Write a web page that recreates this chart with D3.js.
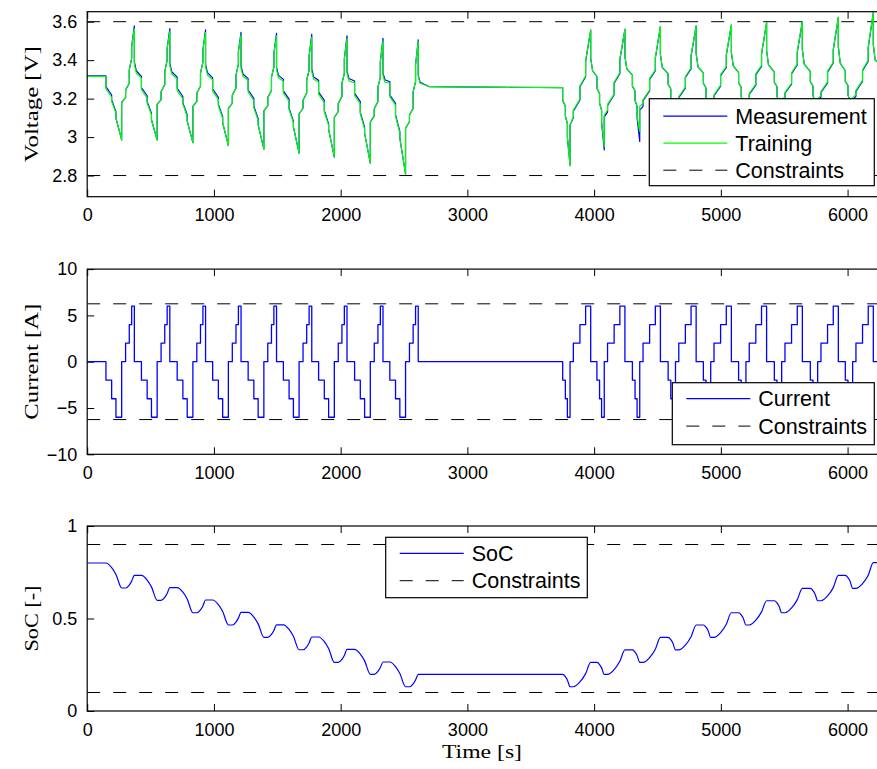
<!DOCTYPE html>
<html><head><meta charset="utf-8">
<script src="https://cdn.jsdelivr.net/npm/d3@7"></script>
<style>body{margin:0;background:#fff}svg{display:block}</style>
</head><body><svg id="c" width="877" height="769"></svg>
<script>
// ---------- DATA ----------
// breakpoints of the test profile (s)
const time = [0,
 148,193,227,272,303,332,351,372,387,
 428,473,507,552,583,612,631,652,667,
 710,755,789,834,865,894,913,934,949,
 990,1035,1069,1114,1145,1174,1193,1214,1229,
 1270,1315,1349,1394,1425,1454,1473,1494,1509,
 1548,1593,1627,1672,1703,1732,1751,1772,1787,
 1826,1871,1905,1950,1981,2010,2029,2050,2065,
 2110,2155,2189,2234,2265,2294,2313,2334,2349,
 2388,2433,2467,2512,2543,2572,2591,2612,2627,
 2700,
 3752,3773,3789,3810,3836,3888,3933,3973,3988,
 4022,4043,4059,4080,4106,4158,4203,4243,4258,
 4302,4323,4339,4360,4386,4438,4483,4523,4538,
 4584,4605,4621,4642,4668,4720,4765,4805,4820,
 4862,4883,4899,4920,4946,4998,5043,5083,5098,
 5140,5161,5177,5198,5224,5276,5321,5361,5376,
 5422,5443,5459,5480,5506,5558,5603,5643,5658,
 5706,5727,5743,5764,5790,5842,5887,5927,5942,
 5982,6003,6019,6040,6066,6118,6163,6203,6218,
 6300];

// current held on [time[i], time[i+1]) (A)
const current = [0,
 -2,-4,-6,0,2,4,6,0,0,
 -2,-4,-6,0,2,4,6,0,0,
 -2,-4,-6,0,2,4,6,0,0,
 -2,-4,-6,0,2,4,6,0,0,
 -2,-4,-6,0,2,4,6,0,0,
 -2,-4,-6,0,2,4,6,0,0,
 -2,-4,-6,0,2,4,6,0,0,
 -2,-4,-6,0,2,4,6,0,0,
 -2,-4,-6,0,2,4,6,0,0,
 0,
 -2,-4,-6,0,2,4,6,0,0,
 -2,-4,-6,0,2,4,6,0,0,
 -2,-4,-6,0,2,4,6,0,0,
 -2,-4,-6,0,2,4,6,0,0,
 -2,-4,-6,0,2,4,6,0,0,
 -2,-4,-6,0,2,4,6,0,0,
 -2,-4,-6,0,2,4,6,0,0,
 -2,-4,-6,0,2,4,6,0,0,
 -2,-4,-6,0,2,4,6,0,0];

// measured voltage at start / end of each segment (V)
const measStart = [3.318,
 3.262,3.193,3.098,3.180,3.245,3.349,3.470,3.392,3.345,
 3.258,3.185,3.090,3.170,3.236,3.340,3.462,3.385,3.340,
 3.254,3.178,3.083,3.160,3.228,3.332,3.454,3.378,3.335,
 3.250,3.170,3.074,3.148,3.218,3.322,3.445,3.370,3.328,
 3.245,3.160,3.064,3.135,3.206,3.310,3.434,3.362,3.321,
 3.240,3.150,3.053,3.120,3.192,3.296,3.421,3.353,3.313,
 3.234,3.139,3.040,3.102,3.174,3.280,3.406,3.344,3.305,
 3.227,3.128,3.020,3.078,3.148,3.260,3.392,3.334,3.298,
 3.219,3.115,2.994,3.046,3.115,3.236,3.375,3.323,3.285,
 3.262,
 3.190,3.110,3.000,3.063,3.135,3.262,3.392,3.410,3.345,
 3.255,3.175,3.075,3.105,3.165,3.280,3.400,3.420,3.355,
 3.265,3.190,3.100,3.140,3.190,3.300,3.410,3.430,3.362,
 3.275,3.200,3.110,3.160,3.205,3.310,3.420,3.435,3.365,
 3.280,3.205,3.120,3.170,3.215,3.320,3.425,3.440,3.370,
 3.282,3.210,3.125,3.180,3.222,3.325,3.430,3.450,3.375,
 3.285,3.212,3.130,3.185,3.228,3.330,3.440,3.455,3.380,
 3.288,3.215,3.135,3.190,3.232,3.338,3.452,3.470,3.385,
 3.290,3.218,3.140,3.195,3.238,3.345,3.465,3.480,3.400];
const measEnd = [3.318,
 3.219,3.132,2.985,3.205,3.280,3.410,3.578,3.345,3.316,
 3.215,3.124,2.985,3.195,3.272,3.400,3.564,3.340,3.312,
 3.211,3.116,2.971,3.186,3.264,3.390,3.557,3.335,3.308,
 3.207,3.106,2.956,3.176,3.255,3.378,3.545,3.328,3.304,
 3.202,3.095,2.937,3.164,3.243,3.364,3.540,3.321,3.300,
 3.197,3.083,2.916,3.150,3.229,3.348,3.534,3.313,3.296,
 3.191,3.069,2.896,3.133,3.211,3.330,3.526,3.305,3.292,
 3.184,3.051,2.864,3.110,3.184,3.310,3.514,3.298,3.288,
 3.176,3.029,2.807,3.080,3.150,3.288,3.505,3.285,3.262,
 3.257,
 3.160,3.070,2.855,3.100,3.193,3.314,3.557,3.345,3.315,
 3.225,3.140,2.933,3.130,3.220,3.330,3.560,3.355,3.322,
 3.240,3.160,2.977,3.160,3.240,3.345,3.574,3.362,3.330,
 3.250,3.170,3.010,3.180,3.255,3.355,3.578,3.365,3.332,
 3.255,3.175,3.030,3.190,3.265,3.362,3.583,3.370,3.335,
 3.258,3.180,3.045,3.198,3.270,3.368,3.595,3.375,3.338,
 3.262,3.185,3.055,3.202,3.275,3.375,3.600,3.380,3.340,
 3.265,3.188,3.065,3.208,3.282,3.385,3.623,3.385,3.345,
 3.268,3.190,3.075,3.212,3.290,3.395,3.647,3.400,3.360];

// model (training) voltage at start / end of each segment (V)
const trainStart = [3.316,
 3.250,3.185,3.098,3.180,3.245,3.349,3.470,3.378,3.333,
 3.246,3.177,3.090,3.170,3.236,3.340,3.462,3.371,3.328,
 3.242,3.170,3.083,3.160,3.228,3.332,3.454,3.364,3.323,
 3.238,3.162,3.074,3.148,3.218,3.322,3.445,3.356,3.316,
 3.233,3.152,3.064,3.135,3.206,3.310,3.434,3.348,3.309,
 3.228,3.142,3.053,3.120,3.192,3.296,3.421,3.339,3.301,
 3.222,3.131,3.040,3.102,3.174,3.280,3.406,3.330,3.293,
 3.215,3.120,3.020,3.078,3.148,3.260,3.392,3.320,3.286,
 3.209,3.108,2.994,3.046,3.115,3.236,3.375,3.315,3.280,
 3.262,
 3.190,3.110,3.000,3.063,3.140,3.267,3.397,3.410,3.345,
 3.255,3.175,3.080,3.115,3.170,3.285,3.405,3.420,3.355,
 3.265,3.190,3.110,3.160,3.195,3.305,3.415,3.430,3.362,
 3.275,3.200,3.120,3.175,3.210,3.315,3.425,3.435,3.365,
 3.280,3.205,3.130,3.185,3.220,3.325,3.430,3.440,3.370,
 3.282,3.210,3.135,3.190,3.227,3.330,3.435,3.450,3.375,
 3.285,3.212,3.140,3.195,3.233,3.335,3.445,3.455,3.380,
 3.288,3.215,3.145,3.200,3.237,3.343,3.457,3.470,3.385,
 3.290,3.218,3.150,3.205,3.243,3.350,3.470,3.480,3.400];
const trainEnd = [3.316,
 3.207,3.124,2.985,3.205,3.280,3.410,3.564,3.333,3.306,
 3.203,3.116,2.985,3.195,3.272,3.400,3.550,3.328,3.302,
 3.199,3.108,2.971,3.186,3.264,3.390,3.543,3.323,3.298,
 3.195,3.098,2.956,3.176,3.255,3.378,3.531,3.316,3.294,
 3.190,3.087,2.937,3.164,3.243,3.364,3.526,3.309,3.290,
 3.185,3.075,2.916,3.150,3.229,3.348,3.520,3.301,3.286,
 3.179,3.061,2.896,3.133,3.211,3.330,3.512,3.293,3.282,
 3.172,3.043,2.864,3.110,3.184,3.310,3.500,3.286,3.280,
 3.166,3.022,2.807,3.080,3.150,3.288,3.498,3.280,3.262,
 3.257,
 3.160,3.070,2.850,3.105,3.198,3.319,3.557,3.345,3.315,
 3.225,3.140,2.951,3.140,3.225,3.335,3.560,3.355,3.322,
 3.240,3.160,3.029,3.175,3.245,3.350,3.574,3.362,3.330,
 3.250,3.170,3.050,3.190,3.260,3.360,3.578,3.365,3.332,
 3.255,3.175,3.065,3.200,3.270,3.367,3.583,3.370,3.335,
 3.258,3.180,3.075,3.206,3.275,3.373,3.595,3.375,3.338,
 3.262,3.185,3.085,3.210,3.280,3.380,3.600,3.380,3.340,
 3.265,3.188,3.090,3.215,3.287,3.390,3.623,3.385,3.345,
 3.268,3.190,3.100,3.220,3.295,3.400,3.647,3.400,3.360];

// state of charge at each breakpoint (-)
const soc = [0.800,
 0.800,0.775,0.738,0.665,0.665,0.681,0.702,0.733,0.733,
 0.733,0.708,0.671,0.598,0.598,0.614,0.635,0.667,0.667,
 0.667,0.642,0.605,0.531,0.531,0.547,0.568,0.600,0.600,
 0.600,0.575,0.538,0.465,0.465,0.481,0.502,0.533,0.533,
 0.533,0.508,0.471,0.398,0.398,0.414,0.435,0.466,0.466,
 0.466,0.441,0.404,0.331,0.331,0.347,0.368,0.400,0.400,
 0.400,0.375,0.338,0.263,0.263,0.279,0.300,0.333,0.333,
 0.333,0.308,0.271,0.198,0.198,0.214,0.235,0.265,0.265,
 0.265,0.240,0.203,0.131,0.131,0.147,0.168,0.198,0.198,
 0.198,
 0.198,0.186,0.168,0.131,0.131,0.157,0.202,0.263,0.263,
 0.263,0.251,0.233,0.198,0.198,0.224,0.269,0.330,0.330,
 0.330,0.318,0.300,0.263,0.263,0.289,0.334,0.398,0.398,
 0.398,0.386,0.368,0.330,0.330,0.356,0.401,0.465,0.465,
 0.465,0.453,0.435,0.398,0.398,0.424,0.469,0.531,0.531,
 0.531,0.519,0.501,0.465,0.465,0.491,0.536,0.596,0.596,
 0.596,0.584,0.566,0.531,0.531,0.557,0.602,0.663,0.663,
 0.663,0.651,0.633,0.596,0.596,0.622,0.667,0.733,0.733,
 0.733,0.721,0.703,0.663,0.663,0.689,0.734,0.802,0.802,
 0.802];

const voltConstraints = [2.8, 3.6];
const currentConstraints = [-6.25, 6.25];
const socConstraints = [0.1, 0.9];

const timeTicks = [0,1000,2000,3000,4000,5000,6000];
const timeTickLabels = ['0','1000','2000','3000','4000','5000','6000'];
const voltTicks = [2.8,3,3.2,3.4,3.6];
const voltTickLabels = ['2.8','3','3.2','3.4','3.6'];
const currentTicks = [-10,-5,0,5,10];
const currentTickLabels = ['\u221210','\u22125','0','5','10'];
const socTicks = [0,0.5,1];
const socTickLabels = ['0','0.5','1'];

// ---------- DRAW ----------
const svg = d3.select('#c');
const x = d3.scaleLinear().domain([0, 6300]).range([87.2, 885.6]);
const TICK = 7;
const sansFont = "'Liberation Sans', Arial, sans-serif";
const serifFont = "'Liberation Serif', 'Times New Roman', serif";

function serifLabel(sel, txt, len) {
  sel.style('font-family', serifFont).style('font-size', '19px')
    .attr('textLength', len).attr('lengthAdjust', 'spacingAndGlyphs').text(txt);
}

function panel(cfg) {
  const y = d3.scaleLinear().domain(cfg.domain).range([cfg.bottom, cfg.top]);
  const g = svg.append('g');
  const clipId = 'clip' + cfg.id;
  svg.append('clipPath').attr('id', clipId).append('rect')
    .attr('x', x.range()[0]).attr('y', cfg.top)
    .attr('width', x.range()[1] - x.range()[0]).attr('height', cfg.bottom - cfg.top);

  const axB = d3.axisBottom(x).tickValues(timeTicks).tickSize(-TICK).tickPadding(12)
    .tickFormat((d, i) => timeTickLabels[i]);
  const axT = d3.axisTop(x).tickValues(timeTicks).tickSize(-TICK).tickFormat('');
  const axL = d3.axisLeft(y).tickValues(cfg.ticks).tickSize(-TICK).tickPadding(10)
    .tickFormat((d, i) => cfg.tickLabels[i]);
  const gb = g.append('g').attr('transform', `translate(0,${cfg.bottom})`).call(axB);
  const gt = g.append('g').attr('transform', `translate(0,${cfg.top})`).call(axT);
  const gl = g.append('g').attr('transform', `translate(${x.range()[0]},0)`).call(axL);
  [gb, gt, gl].forEach(a => {
    a.select('.domain').remove();
    a.selectAll('line').attr('stroke', '#000').attr('stroke-width', 1);
    a.selectAll('text').attr('fill', '#000').style('font-family', sansFont).style('font-size', '18px');
  });

  const plot = g.append('g').attr('clip-path', `url(#${clipId})`);
  cfg.constraints.forEach(c => {
    plot.append('line').attr('x1', x.range()[0]).attr('x2', x.range()[1])
      .attr('y1', y(c)).attr('y2', y(c))
      .attr('stroke', '#000').attr('stroke-width', 1).attr('stroke-dasharray', '13,13');
  });
  cfg.series.forEach(s => {
    plot.append('path').datum(s.data)
      .attr('fill', 'none').attr('stroke', s.color).attr('stroke-width', s.width || 1.2)
      .attr('stroke-linejoin', 'round')
      .attr('d', d3.line().x(d => x(d[0])).y(d => y(d[1])).curve(s.curve || d3.curveLinear));
  });

  g.append('rect').attr('x', x.range()[0]).attr('y', cfg.top)
    .attr('width', x.range()[1] - x.range()[0]).attr('height', cfg.bottom - cfg.top)
    .attr('fill', 'none').attr('stroke', '#000').attr('stroke-width', 1.2);

  const yl = g.append('text').attr('transform', `translate(38,${(cfg.top + cfg.bottom) / 2}) rotate(-90)`)
    .attr('text-anchor', 'middle');
  serifLabel(yl, cfg.label, cfg.labelLen);

  const L = cfg.legend;
  const lg = g.append('g');
  lg.append('rect').attr('x', L.x).attr('y', L.y).attr('width', L.w).attr('height', L.h)
    .attr('fill', '#fff').attr('stroke', '#000').attr('stroke-width', 1.2);
  L.items.forEach((it, i) => {
    const yy = L.y + L.first + i * L.step;
    lg.append('line').attr('x1', L.x + 14).attr('x2', L.x + 78).attr('y1', yy).attr('y2', yy)
      .attr('stroke', it.color).attr('stroke-width', it.dash ? 1 : 1.2)
      .attr('stroke-dasharray', it.dash ? '13,13' : null);
    lg.append('text').attr('x', L.x + 86).attr('y', yy).attr('dy', '0.36em')
      .style('font-family', sansFont).style('font-size', '21.5px').text(it.label);
  });
  return y;
}

function segLine(startArr, endArr) {
  const pts = [];
  for (let i = 0; i < startArr.length; i++) {
    pts.push([time[i], startArr[i]]);
    pts.push([time[i + 1], endArr[i]]);
  }
  return pts;
}
const measLine = segLine(measStart, measEnd);
const trainLine = segLine(trainStart, trainEnd);
const currentLine = current.map((c, i) => [time[i], c]).concat([[time[time.length - 1], current[current.length - 1]]]);
const socLine = soc.map((s, i) => [time[i], s]);

panel({
  id: 1, top: 11.7, bottom: 196.7, domain: [2.69, 3.652],
  ticks: voltTicks, tickLabels: voltTickLabels, label: 'Voltage [V]', labelLen: 116,
  constraints: voltConstraints,
  series: [{data: measLine, color: '#0000ff'}, {data: trainLine, color: '#00ff00'}],
  legend: {x: 649.3, y: 98.7, w: 225, h: 87, first: 17.5, step: 27,
    items: [{label: 'Measurement', color: '#0000ff'}, {label: 'Training', color: '#00ff00'},
            {label: 'Constraints', color: '#000', dash: true}]}
});
panel({
  id: 2, top: 269.1, bottom: 454.3, domain: [-10, 10],
  ticks: currentTicks, tickLabels: currentTickLabels, label: 'Current [A]', labelLen: 116,
  constraints: currentConstraints,
  series: [{data: currentLine, color: '#0000ff', curve: d3.curveStepAfter, width: 1.3}],
  legend: {x: 672.3, y: 382.7, w: 202, h: 62, first: 16, step: 27.4,
    items: [{label: 'Current', color: '#0000ff'}, {label: 'Constraints', color: '#000', dash: true}]}
});
panel({
  id: 3, top: 526, bottom: 711, domain: [0, 1],
  ticks: socTicks, tickLabels: socTickLabels, label: 'SoC [-]', labelLen: 66,
  constraints: socConstraints,
  series: [{data: socLine, color: '#0000ff', curve: d3.curveMonotoneX}],
  legend: {x: 385.7, y: 537.3, w: 201.6, h: 60.4, first: 16, step: 27.4,
    items: [{label: 'SoC', color: '#0000ff'}, {label: 'Constraints', color: '#000', dash: true}]}
});

const xl = svg.append('text').attr('x', 482).attr('y', 758).attr('text-anchor', 'middle');
serifLabel(xl, 'Time [s]', 80);
</script></body></html>
